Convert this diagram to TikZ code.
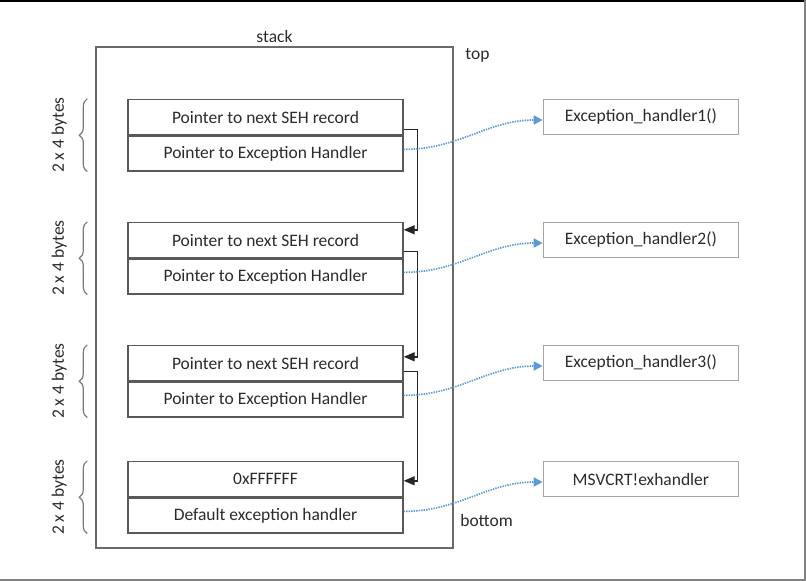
\documentclass[tikz,border=0pt]{standalone}
\usepackage{fontspec}
\setmainfont{Carlito}
\usetikzlibrary{arrows.meta,positioning,calc,decorations.pathreplacing}
\definecolor{sehink}{HTML}{2B2B2B}
\definecolor{sehline}{HTML}{595959}
\definecolor{sehlight}{HTML}{A6A6A6}
\definecolor{sehblue}{HTML}{5B9BD5}
\tikzset{
  >=Triangle,
  font=\fontsize{17.5}{21}\selectfont,
  field/.style={draw=sehline,line width=1.4pt,minimum width=275pt,minimum height=35pt,
                inner sep=0pt,align=center},
  handler/.style={draw=sehlight,line width=1.4pt,minimum width=195pt,minimum height=35pt,
                  inner sep=0pt,align=center},
  stackbox/.style={draw=sehline!90,line width=1.6pt},
  nextlink/.style={-{Triangle[length=11pt,width=9pt]},line width=1.4pt,draw=black!85},
  handlerlink/.style={-{Triangle[length=9pt,width=9pt]},line width=1.7pt,draw=sehblue,
                      dash pattern=on 1.4pt off 1.1pt},
  brace/.style={decorate,decoration={brace,amplitude=8pt},draw=sehline!80,line width=1.2pt},
  bytes/.style={rotate=90},
}

\begin{document}
\begin{tikzpicture}[x=1pt,y=-1pt,text=sehink]
  \useasboundingbox (0,0) rectangle (806,581);
  \draw[black,line width=2pt] (0,1) -- (806,1);
  \draw[gray,line width=1.5pt] (805,0) -- (805,581);
  \draw[gray,line width=1.5pt] (0,580) -- (806,580);

  \node[stackbox,minimum width=357pt,minimum height=501pt,
        label={[inner sep=3pt]above:stack}] (stack) at (274.5,297.5) {};
  \node[anchor=west] (toplbl) at ([xshift=8pt,yshift=-9pt]stack.north east) {top};
  \node[anchor=west] (botlbl) at ([xshift=3pt,yshift=28pt]stack.south east) {bottom};

  % SEH records on the stack
  \node[field] (r1a) at (265.5,117) {Pointer to next SEH record};
  \node[field,below=0pt of r1a] (r1b) {Pointer to Exception Handler};
  \node[field] (r2a) at (265.5,240) {Pointer to next SEH record};
  \node[field,below=0pt of r2a] (r2b) {Pointer to Exception Handler};
  \node[field] (r3a) at (265.5,363) {Pointer to next SEH record};
  \node[field,below=0pt of r3a] (r3b) {Pointer to Exception Handler};
  \node[field] (r4a) at (265.5,479) {0xFFFFFF};
  \node[field,below=0pt of r4a] (r4b) {Default exception handler};

  % handlers
  \node[handler,right=139pt of r1a] (h1) {Exception\_handler1()};
  \node[handler,right=139pt of r2a] (h2) {Exception\_handler2()};
  \node[handler,right=139pt of r3a] (h3) {Exception\_handler3()};
  \node[handler,right=139pt of r4a] (h4) {MSVCRT!exhandler};

  % sizes
  \draw[brace] ([xshift=-40pt]r1b.south west) -- ([xshift=-40pt]r1a.north west);
  \draw[brace] ([xshift=-40pt]r2b.south west) -- ([xshift=-40pt]r2a.north west);
  \draw[brace] ([xshift=-40pt]r3b.south west) -- ([xshift=-40pt]r3a.north west);
  \draw[brace] ([xshift=-40pt]r4b.south west) -- ([xshift=-40pt]r4a.north west);
  \node[bytes] (b1) at ([xshift=-68pt]r1a.south west) {2 x 4 bytes};
  \node[bytes] (b2) at ([xshift=-68pt]r2a.south west) {2 x 4 bytes};
  \node[bytes] (b3) at ([xshift=-68pt]r3a.south west) {2 x 4 bytes};
  \node[bytes] (b4) at ([xshift=-68pt]r4a.south west) {2 x 4 bytes};

  % next-record chain
  \draw[nextlink] ([yshift=6pt]r1a.south east) -- ++(14pt,0) |- ([yshift=-8pt]r2a.north east);
  \draw[nextlink] ([yshift=7pt]r2a.south east) -- ++(14pt,0) |- ([yshift=-12pt]r3a.north east);
  \draw[nextlink] ([yshift=10pt]r3a.south east) -- ++(14pt,0) |- ([yshift=-20pt]r4a.north east);

  % handler pointers
  \draw[handlerlink] ([yshift=4pt]r1b.east) to[out=0,in=180] ([yshift=-3pt]h1.west);
  \draw[handlerlink] ([yshift=4pt]r2b.east) to[out=0,in=180] ([yshift=-3pt]h2.west);
  \draw[handlerlink] ([yshift=4pt]r3b.east) to[out=0,in=180] ([yshift=-3pt]h3.west);
  \draw[handlerlink] ([yshift=4pt]r4b.east) to[out=0,in=180] ([yshift=-3pt]h4.west);
\end{tikzpicture}
\end{document}
